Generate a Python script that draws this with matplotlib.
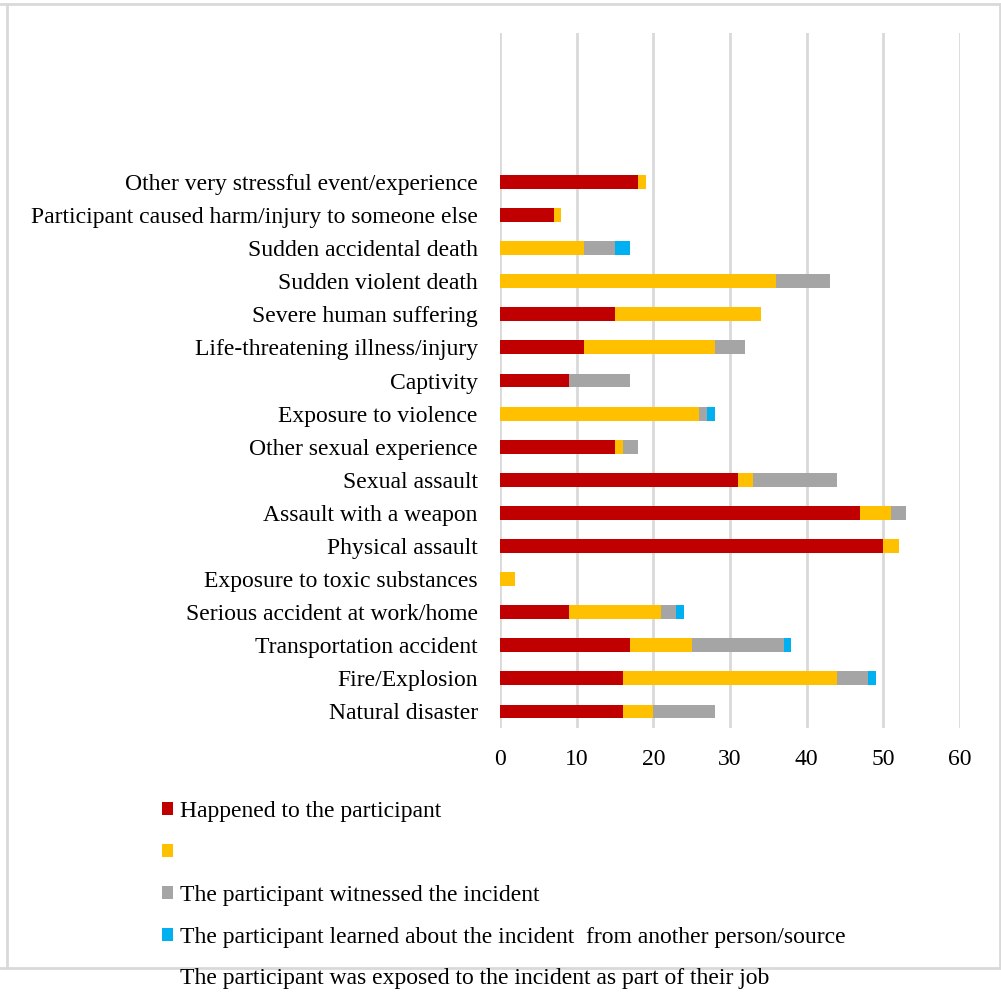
import numpy as np
import matplotlib.pyplot as plt
from matplotlib.patches import Patch
from matplotlib.lines import Line2D

# event types, bottom to top
events = ['Natural disaster', 'Fire/Explosion', 'Transportation accident',
          'Serious accident at work/home', 'Exposure to toxic substances',
          'Physical assault', 'Assault with a weapon', 'Sexual assault',
          'Other sexual experience', 'Exposure to violence', 'Captivity',
          'Life-threatening illness/injury', 'Severe human suffering',
          'Sudden violent death', 'Sudden accidental death',
          'Participant caused harm/injury to someone else',
          'Other very stressful event/experience']

happened = [16, 16, 17, 9, 0, 50, 47, 31, 15, 0, 9, 11, 15, 0, 0, 7, 18]
job      = [4, 28, 8, 12, 2, 2, 4, 2, 1, 26, 0, 17, 19, 36, 11, 1, 1]
witnessed = [8, 4, 12, 2, 0, 0, 2, 11, 2, 1, 8, 4, 0, 7, 4, 0, 0]
learned  = [0, 1, 1, 1, 0, 0, 0, 0, 0, 1, 0, 0, 0, 0, 2, 0, 0]

series = [happened, job, witnessed, learned]
colors = ['#C00000', '#FFC000', '#A5A5A5', '#00B0F0']
legend_labels = ['Happened to the participant', '',
                 'The participant witnessed the incident',
                 'The participant learned about the incident  from another person/source']
extra_label = 'The participant was exposed to the incident as part of their job'

plt.rcParams['font.family'] = ['Liberation Serif', 'DejaVu Serif']

fig = plt.figure(figsize=(10.01, 9.92), dpi=100)
ax = fig.add_axes([0.4995, 0.2661, 0.4595, 0.7006])

y = np.arange(len(events))
left = np.zeros(len(events))
for vals, c in zip(series, colors):
    vals = np.array(vals, dtype=float)
    ax.barh(y, vals, left=left, height=0.42, color=c, zorder=3)
    left += vals

ax.set_xlim(0, 60)
ax.set_ylim(-0.5, 20.5)
ax.set_xticks(np.arange(0, 61, 10))
ax.set_yticks(y)
ax.set_yticklabels(events)
ax.tick_params(axis='both', length=0, labelsize=17, colors='#000000')
ax.tick_params(axis='x', pad=15)
ax.tick_params(axis='y', pad=16)
ax.grid(axis='x', color='#D9D9D9', linewidth=2, zorder=0)
for s in ax.spines.values():
    s.set_visible(False)

handles = [Patch(facecolor=c, edgecolor='none') for c in colors]
handles.append(Line2D([], [], color='none'))
fig.legend(handles, legend_labels + [extra_label], loc='upper left',
           bbox_to_anchor=(0.152, 0.202), frameon=False, fontsize=17,
           handlelength=0.47, handleheight=0.47, handletextpad=0.3,
           labelspacing=0.883, borderaxespad=0)

# outer chart frame
frame = '#D9D9D9'
fig.add_artist(Line2D([0, 1], [1 - 4 / 992] * 2, color=frame, lw=2))
fig.add_artist(Line2D([0, 1], [1 - 968 / 992] * 2, color=frame, lw=2))
fig.add_artist(Line2D([7 / 1001] * 2, [1 - 4 / 992, 1 - 968 / 992], color=frame, lw=2))
fig.add_artist(Line2D([1000 / 1001] * 2, [1 - 4 / 992, 1 - 968 / 992], color=frame, lw=2))

fig.savefig('out.png', dpi=100, facecolor='white')
